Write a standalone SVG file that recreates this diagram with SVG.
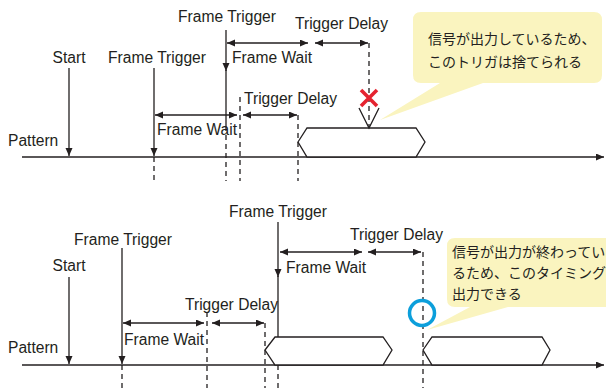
<svg xmlns="http://www.w3.org/2000/svg" width="606" height="388" viewBox="0 0 606 388">
<defs>
<marker id="ah" markerUnits="userSpaceOnUse" markerWidth="9" markerHeight="8" refX="8" refY="3.5" orient="auto-start-reverse">
<path d="M0,0 L8,3.5 L0,7 z" fill="#231F20"/>
</marker>
<style>
.ln{stroke:#231F20;stroke-width:1.3;fill:none}
.ar{stroke:#231F20;stroke-width:1.3;fill:none;marker-end:url(#ah)}
.da{stroke:#231F20;stroke-width:1.3;fill:none;marker-start:url(#ah);marker-end:url(#ah)}
.dash{stroke:#231F20;stroke-width:1.3;fill:none;stroke-dasharray:5,4}
.hex{stroke:#231F20;stroke-width:1.3;fill:#fff}
.t{font-family:"Liberation Sans",Arial,sans-serif;font-size:15.6px;fill:#231F20}
.j{font-family:"Noto Sans CJK JP","Noto Sans",sans-serif;font-size:14px;fill:#231F20}
.call{fill:#FAF4BF}
</style>
</defs>
<rect width="606" height="388" fill="#fff"/>

<!-- TOP PANEL -->
<g id="top-callout">
<path class="call" d="M421,12 H594 Q602,12 602,20 V75 Q602,83 594,83 H483 L380,120 L440,83 H421 Q413,83 413,75 V20 Q413,12 421,12 Z"/>
<text class="j" x="428" y="44">信号が出力しているため、</text>
<text class="j" x="428" y="67">このトリガは捨てられる</text>
</g>

<g id="top-connectors">
<line class="ar" x1="22" y1="157" x2="604" y2="157"/>
<line class="dash" x1="154" y1="157" x2="154" y2="181"/>
<line class="dash" x1="226" y1="126" x2="226" y2="181"/>
<line class="dash" x1="240" y1="97" x2="240" y2="181"/>
<line class="dash" x1="298" y1="115" x2="298" y2="181"/>
<line class="dash" x1="369" y1="43" x2="369" y2="128"/>
<line class="da" x1="155" y1="115" x2="237" y2="115"/>
<line class="da" x1="243" y1="115" x2="297" y2="115"/>
<line class="da" x1="227" y1="43" x2="308" y2="43"/>
<line class="da" x1="315" y1="43" x2="368" y2="43"/>
</g>

<g id="top-pattern-label"><text class="t" x="8" y="146">Pattern</text></g>
<g id="top-start">
<text class="t" x="69" y="63" text-anchor="middle">Start</text>
<line class="ar" x1="69" y1="68" x2="69" y2="156"/>
</g>
<g id="top-frame-trigger-1">
<text class="t" x="157" y="63" text-anchor="middle">Frame Trigger</text>
<line class="ar" x1="154" y1="68" x2="154" y2="156"/>
</g>
<g id="top-frame-trigger-2">
<text class="t" x="227" y="22" text-anchor="middle">Frame Trigger</text>
<line class="ar" x1="226" y1="30" x2="226" y2="71"/>
<line class="ln" x1="226" y1="70" x2="226" y2="126"/>
</g>
<g id="top-frame-wait-1"><text class="t" x="157" y="135">Frame Wait</text></g>
<g id="top-trigger-delay-1"><text class="t" x="244" y="104">Trigger Delay</text></g>
<g id="top-frame-wait-2"><text class="t" x="232" y="63">Frame Wait</text></g>
<g id="top-trigger-delay-2"><text class="t" x="295" y="29">Trigger Delay</text></g>
<g id="top-signal">
<path class="hex" d="M298,142 L307,128 H416 L425,142 L416,157 H307 Z"/>
</g>
<g id="top-reject">
<path class="ln" d="M359,108 L369,128 L379,108"/>
<path d="M361,90 L377,106 M377,90 L361,106" stroke="#E52330" stroke-width="3.6" fill="none"/>
</g>

<!-- BOTTOM PANEL -->
<g id="bottom-callout">
<path class="call" d="M455,238 H620 V307 H508 L427,330 L470,307 H455 Q447,307 447,299 V246 Q447,238 455,238 Z"/>
<text class="j" x="452" y="257">信号が出力が終わってい</text>
<text class="j" x="452" y="278">るため、このタイミングで</text>
<text class="j" x="452" y="299">出力できる</text>
</g>

<g id="bottom-connectors">
<line class="ar" x1="22" y1="365" x2="604" y2="365"/>
<line class="dash" x1="122" y1="365" x2="122" y2="388"/>
<line class="dash" x1="207" y1="312" x2="207" y2="388"/>
<line class="dash" x1="265" y1="323" x2="265" y2="388"/>
<line class="dash" x1="278" y1="338" x2="278" y2="388"/>
<line class="dash" x1="423" y1="252" x2="423" y2="388"/>
<line class="da" x1="123" y1="323" x2="204" y2="323"/>
<line class="da" x1="212" y1="323" x2="264" y2="323"/>
<line class="da" x1="280" y1="252" x2="362" y2="252"/>
<line class="da" x1="368" y1="252" x2="421" y2="252"/>
</g>

<g id="bottom-pattern-label"><text class="t" x="8" y="353">Pattern</text></g>
<g id="bottom-start">
<text class="t" x="69" y="271" text-anchor="middle">Start</text>
<line class="ar" x1="69" y1="277" x2="69" y2="364"/>
</g>
<g id="bottom-frame-trigger-1">
<text class="t" x="123" y="245" text-anchor="middle">Frame Trigger</text>
<line class="ar" x1="122" y1="248" x2="122" y2="364"/>
</g>
<g id="bottom-frame-trigger-2">
<text class="t" x="278" y="217" text-anchor="middle">Frame Trigger</text>
<line class="ar" x1="278" y1="222" x2="278" y2="277"/>
<line class="ln" x1="278" y1="276" x2="278" y2="338"/>
</g>
<g id="bottom-frame-wait-1"><text class="t" x="124" y="345">Frame Wait</text></g>
<g id="bottom-trigger-delay-1"><text class="t" x="185" y="310">Trigger Delay</text></g>
<g id="bottom-frame-wait-2"><text class="t" x="286" y="273">Frame Wait</text></g>
<g id="bottom-trigger-delay-2"><text class="t" x="350" y="240">Trigger Delay</text></g>
<g id="bottom-signal-1">
<path class="hex" d="M265,350 L275,337 H383 L392,350 L383,365 H275 Z"/>
</g>
<g id="bottom-signal-2">
<path class="hex" d="M423,350 L432,337 H542 L550,350 L542,365 H432 Z"/>
</g>
<g id="bottom-accept">
<circle cx="422" cy="313" r="12.5" fill="none" stroke="#0C9FDB" stroke-width="3.5"/>
</g>
</svg>
